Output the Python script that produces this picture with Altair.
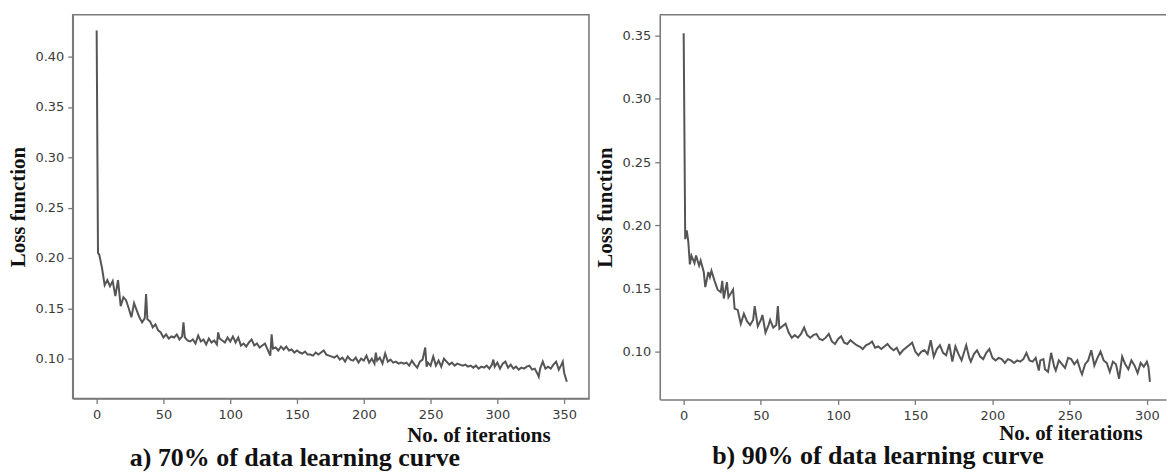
import altair as alt
import pandas as pd

# Panel a: 70% of data
iter_a = [0, 1, 2, 4, 6, 8, 10, 12, 14, 16, 18, 20, 22, 24, 26, 28, 30, 32, 34, 36, 37, 38,
          40, 42, 44, 46, 48, 50, 52, 54, 56, 58, 60, 62, 64, 65, 66, 68, 70, 72, 74, 76, 78,
          80, 82, 84, 86, 88, 90, 91, 92, 94, 96, 98, 100, 102, 104, 106, 108, 110, 112, 114,
          116, 118, 120, 122, 124, 126, 128, 130, 131, 132, 134, 136, 138, 140, 142, 144, 146,
          148, 150, 152, 154, 156, 158, 160, 162, 164, 166, 168, 170, 172, 174, 176, 178, 180,
          182, 184, 186, 188, 190, 192, 194, 196, 198, 200, 202, 204, 206, 208, 209, 210, 212,
          214, 216, 218, 220, 222, 224, 226, 228, 230, 232, 234, 236, 238, 240, 242, 244, 246,
          247, 248, 250, 252, 254, 256, 258, 260, 262, 264, 266, 268, 270, 272, 274, 276, 278,
          280, 282, 284, 286, 288, 290, 292, 294, 296, 297, 298, 300, 302, 304, 306, 308, 310,
          312, 314, 316, 318, 320, 322, 324, 326, 328, 330, 331, 332, 334, 336, 338, 340, 342,
          344, 346, 348, 349, 350, 352]
loss_a = [0.426, 0.205, 0.203, 0.190, 0.173, 0.178, 0.172, 0.177, 0.162, 0.178, 0.152, 0.161,
          0.158, 0.150, 0.141, 0.155, 0.148, 0.141, 0.136, 0.140, 0.164, 0.139, 0.137, 0.131,
          0.134, 0.128, 0.126, 0.121, 0.124, 0.120, 0.122, 0.121, 0.124, 0.119, 0.122, 0.136,
          0.121, 0.118, 0.117, 0.119, 0.115, 0.123, 0.117, 0.119, 0.114, 0.120, 0.116, 0.118,
          0.114, 0.126, 0.120, 0.118, 0.116, 0.121, 0.117, 0.122, 0.116, 0.121, 0.113, 0.115,
          0.112, 0.116, 0.119, 0.113, 0.115, 0.111, 0.113, 0.115, 0.109, 0.103, 0.124, 0.110,
          0.111, 0.108, 0.112, 0.109, 0.112, 0.108, 0.109, 0.106, 0.108, 0.106, 0.105, 0.107,
          0.104, 0.104, 0.103, 0.106, 0.104, 0.106, 0.108, 0.104, 0.103, 0.102, 0.101, 0.103,
          0.099, 0.101, 0.097, 0.102, 0.099, 0.098, 0.101, 0.096, 0.100, 0.098, 0.103, 0.096,
          0.100, 0.095, 0.106, 0.098, 0.101, 0.095, 0.105, 0.097, 0.099, 0.096, 0.097, 0.095,
          0.096, 0.095, 0.096, 0.093, 0.098, 0.094, 0.091, 0.097, 0.099, 0.111, 0.092, 0.096,
          0.093, 0.102, 0.093, 0.098, 0.092, 0.100, 0.097, 0.094, 0.096, 0.093, 0.095, 0.094,
          0.093, 0.094, 0.092, 0.093, 0.091, 0.093, 0.090, 0.092, 0.091, 0.093, 0.090, 0.094,
          0.099, 0.092, 0.096, 0.090, 0.095, 0.097, 0.091, 0.094, 0.090, 0.092, 0.089, 0.091,
          0.090, 0.092, 0.093, 0.089, 0.090, 0.085, 0.082, 0.090, 0.097, 0.090, 0.092, 0.090,
          0.094, 0.097, 0.089, 0.094, 0.097, 0.086, 0.077]

# Panel b: 90% of data
iter_b = [0, 1, 2, 3, 4, 5, 7, 8, 10, 11, 13, 14, 16, 17, 18, 20, 22, 24, 25, 26, 28, 29, 31,
          32, 33, 35, 37, 39, 41, 43, 45, 46, 48, 50, 51, 53, 55, 56, 58, 60, 61, 62, 64, 66,
          68, 70, 72, 74, 76, 78, 80, 82, 84, 86, 88, 90, 92, 94, 96, 98, 100, 102, 104, 106,
          108, 110, 112, 114, 116, 118, 120, 122, 124, 126, 128, 130, 132, 134, 136, 138, 140,
          142, 144, 146, 148, 150, 152, 154, 156, 158, 160, 162, 164, 166, 168, 170, 172, 174,
          176, 178, 180, 182, 183, 185, 186, 188, 190, 192, 194, 196, 198, 200, 202, 204, 206,
          208, 210, 212, 214, 216, 218, 220, 222, 224, 226, 228, 230, 231, 233, 234, 236, 238,
          240, 241, 243, 245, 247, 249, 251, 253, 255, 257, 258, 260, 262, 264, 266, 268, 270,
          272, 274, 276, 278, 280, 282, 284, 286, 288, 290, 292, 294, 296, 298, 300, 301, 302]
loss_b = [0.352, 0.189, 0.196, 0.187, 0.169, 0.176, 0.170, 0.176, 0.168, 0.172, 0.163, 0.151,
          0.163, 0.159, 0.164, 0.156, 0.149, 0.147, 0.156, 0.142, 0.155, 0.143, 0.147, 0.149,
          0.134, 0.133, 0.122, 0.130, 0.124, 0.121, 0.125, 0.136, 0.120, 0.125, 0.129, 0.115,
          0.121, 0.125, 0.119, 0.121, 0.136, 0.118, 0.120, 0.122, 0.115, 0.111, 0.113, 0.111,
          0.114, 0.119, 0.113, 0.111, 0.113, 0.114, 0.110, 0.109, 0.111, 0.114, 0.108, 0.106,
          0.110, 0.112, 0.107, 0.106, 0.109, 0.107, 0.105, 0.104, 0.102, 0.105, 0.106, 0.108,
          0.103, 0.104, 0.102, 0.104, 0.106, 0.103, 0.101, 0.103, 0.098, 0.101, 0.103, 0.105,
          0.107, 0.100, 0.097, 0.100, 0.101, 0.098, 0.109, 0.096, 0.102, 0.105, 0.099, 0.097,
          0.106, 0.092, 0.104, 0.098, 0.093, 0.101, 0.105, 0.095, 0.092, 0.098, 0.101, 0.096,
          0.094, 0.099, 0.102, 0.095, 0.093, 0.095, 0.094, 0.091, 0.094, 0.093, 0.091, 0.093,
          0.092, 0.094, 0.099, 0.093, 0.092, 0.095, 0.085, 0.093, 0.094, 0.086, 0.084, 0.099,
          0.088, 0.085, 0.093, 0.090, 0.087, 0.095, 0.094, 0.090, 0.093, 0.085, 0.082, 0.090,
          0.093, 0.101, 0.089, 0.095, 0.100, 0.093, 0.091, 0.084, 0.092, 0.090, 0.0785, 0.096,
          0.090, 0.086, 0.093, 0.089, 0.083, 0.091, 0.088, 0.092, 0.088, 0.076]

y_ticks_a = [0.10, 0.15, 0.20, 0.25, 0.30, 0.35, 0.40]
y_ticks_b = [0.10, 0.15, 0.20, 0.25, 0.30, 0.35]
x_ticks_a = [0, 50, 100, 150, 200, 250, 300, 350]
x_ticks_b = [0, 50, 100, 150, 200, 250, 300]

df_a = pd.DataFrame({"iter": iter_a, "loss": loss_a})
df_b = pd.DataFrame({"iter": iter_b, "loss": loss_b})

GREY = "#7a7a7a"
LINE = "#555555"
TXT = "#111111"
LBL = "#3a3a3a"
SERIF = "Liberation Serif"
SANS = "DejaVu Sans"


def make_axes(xvals, yvals, xtitle_x, xtitle_y):
    xa = alt.Axis(values=xvals, title="No. of iterations", grid=False, domainColor=GREY,
                  domainWidth=1.6, tickColor=GREY, tickSize=5, tickWidth=1.3,
                  labelFont=SANS, labelFontSize=13, labelColor=LBL, labelPadding=5,
                  titleFont=SERIF, titleFontSize=21, titleFontWeight="bold", titleColor=TXT,
                  titleX=xtitle_x, titleY=xtitle_y, titleAlign="center", titleBaseline="middle")
    ya = alt.Axis(values=yvals, format=".2f", title="Loss function", grid=False,
                  domainColor=GREY, domainWidth=1.6, tickColor=GREY, tickSize=5,
                  tickWidth=1.3, labelFont=SANS, labelFontSize=13, labelColor=LBL,
                  labelPadding=4, titleFont=SERIF, titleFontSize=21, titleFontWeight="bold",
                  titleColor=TXT, titleX=-54, titleAngle=270, titleAlign="center",
                  titleBaseline="middle")
    return xa, ya


xa_a, ya_a = make_axes(x_ticks_a, y_ticks_a, 407, 37)
chart_a = alt.Chart(df_a).mark_line(color=LINE, strokeWidth=2).encode(
    x=alt.X("iter:Q", scale=alt.Scale(domain=[-17.9, 368.6], nice=False, zero=False), axis=xa_a),
    y=alt.Y("loss:Q", scale=alt.Scale(domain=[0.0604, 0.4416], nice=False, zero=False), axis=ya_a),
).properties(
    width=518, height=385,
    view=alt.ViewBackground(stroke=GREY, strokeWidth=1.6),
    title=alt.TitleParams("a) 70% of data learning curve", orient="bottom", anchor="middle",
                          dx=-36, offset=0, font=SERIF, fontSize=26, fontWeight="bold",
                          color=TXT),
)

xa_b, ya_b = make_axes(x_ticks_b, y_ticks_b, 412, 34)
line_b = alt.Chart(df_b).mark_line(color=LINE, strokeWidth=2).encode(
    x=alt.X("iter:Q", scale=alt.Scale(domain=[-15.5, 312.4], nice=False, zero=False), axis=xa_b),
    y=alt.Y("loss:Q", scale=alt.Scale(domain=[0.0621, 0.3666], nice=False, zero=False), axis=ya_b),
)
top_b = alt.Chart(pd.DataFrame({"k": [0]})).mark_rule(color=GREY, strokeWidth=1.6).encode(
    x=alt.value(0), x2=alt.value(508), y=alt.value(0)
)
chart_b = alt.layer(line_b, top_b).properties(
    width=508, height=386,
    view=alt.ViewBackground(stroke="transparent"),
    title=alt.TitleParams("b) 90% of data learning curve", orient="bottom", anchor="middle",
                          dx=-35, offset=0, font=SERIF, fontSize=26, fontWeight="bold",
                          color=TXT),
)

chart = alt.hconcat(chart_a, chart_b, spacing=4).properties(
    padding={"left": 7, "top": 12, "right": 0, "bottom": 0},
    background="white",
)

chart.save("out.html", embed_options={"renderer": "svg", "actions": False})
